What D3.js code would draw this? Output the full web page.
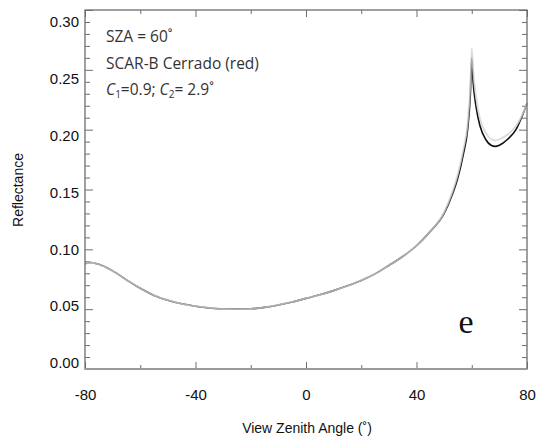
<!DOCTYPE html>
<html>
<head>
<meta charset="utf-8">
<script src="https://cdn.jsdelivr.net/npm/d3@7"></script>
<style>
  html, body { margin: 0; padding: 0; background: #fff; }
  svg { display: block; }
</style>
</head>
<body>
<svg id="chart" width="539" height="446"></svg>
<script>
// View zenith angle (degrees) and modelled reflectance
const angles = [-80, -78, -75, -70, -65, -60, -55, -50, -45, -40, -35, -30, -25, -20, -15, -10, -5,
  0, 5, 10, 15, 20, 25, 30, 35, 40, 45, 50, 53, 55, 57, 58.5, 59.5, 60, 60.5, 61.5, 63, 65, 67, 68.5, 70, 73, 76, 78, 80];
const reflBlack = [0.088, 0.089, 0.0875, 0.082, 0.0745, 0.0675, 0.0615, 0.0575, 0.0545, 0.0525, 0.051, 0.0503, 0.0500, 0.0503, 0.0515, 0.0535, 0.0560,
  0.0590, 0.0620, 0.0655, 0.0695, 0.0740, 0.0795, 0.0865, 0.0940, 0.1030, 0.1150, 0.1300, 0.1460, 0.1600, 0.1800, 0.2000, 0.2300, 0.2600, 0.2400, 0.2200, 0.2030, 0.1920, 0.1870, 0.1860, 0.1870, 0.1920, 0.2000, 0.2100, 0.2220];
const reflGrey = [0.088, 0.089, 0.0875, 0.082, 0.0745, 0.0675, 0.0615, 0.0575, 0.0545, 0.0525, 0.051, 0.0503, 0.0500, 0.0503, 0.0515, 0.0535, 0.0560,
  0.0590, 0.0620, 0.0655, 0.0695, 0.0740, 0.0795, 0.0865, 0.0940, 0.1030, 0.1150, 0.1310, 0.1480, 0.1630, 0.1840, 0.2050, 0.2380, 0.2680, 0.2500, 0.2280, 0.2090, 0.1980, 0.1920, 0.1910, 0.1920, 0.1960, 0.2030, 0.2110, 0.2220];

const xTicks = [-80, -40, 0, 40, 80];
const yTicks = [0.00, 0.05, 0.10, 0.15, 0.20, 0.25, 0.30];
const annotations = ["SZA = 60\u02DA", "SCAR-B Cerrado (red)"];

const svg = d3.select("#chart");
const mLeft = 85, mRight = 527, mTop = 10, mBottom = 369;

const x = d3.scaleLinear().domain([-80, 80]).range([mLeft, mRight]);
const y = d3.scaleLinear().domain([0, 0.30]).range([mBottom, mTop]);
// the value labels sit on a slightly tighter column than the tick marks
const yLabelPos = d3.scaleLinear().domain([0, 0.30]).range([363, 22]);

const frameColor = "#6e6e6e";
const tickFont = "'Liberation Sans', Arial, sans-serif";

// inward-pointing tick marks on all four sides
function tickMarks(axisGen, transform) {
  const g = svg.append("g").attr("transform", transform).call(axisGen);
  g.select(".domain").remove();
  g.selectAll("text").remove();
  g.selectAll("line").attr("stroke", frameColor).attr("stroke-width", 1);
  return g;
}
const yMinor = d3.range(0, 31).map(i => i / 100);
const yMinorOnly = yMinor.filter((v, i) => i % 5 !== 0);
const xMinorOnly = [-60, -20, 20, 60];

tickMarks(d3.axisLeft(y).tickValues(yMinorOnly).tickSize(-5), `translate(${mLeft},0)`);
tickMarks(d3.axisLeft(y).tickValues(yTicks).tickSize(-8), `translate(${mLeft},0)`);
tickMarks(d3.axisRight(y).tickValues(yMinorOnly).tickSize(-5), `translate(${mRight},0)`);
tickMarks(d3.axisRight(y).tickValues(yTicks).tickSize(-8), `translate(${mRight},0)`);
tickMarks(d3.axisTop(x).tickValues(xMinorOnly).tickSize(-4), `translate(0,${mTop})`);
tickMarks(d3.axisTop(x).tickValues(xTicks).tickSize(-7), `translate(0,${mTop})`);
tickMarks(d3.axisBottom(x).tickValues(xMinorOnly).tickSize(-4), `translate(0,${mBottom})`);
tickMarks(d3.axisBottom(x).tickValues(xTicks).tickSize(-7), `translate(0,${mBottom})`);

// tick labels
const yLab = svg.append("g").attr("transform", `translate(${mLeft},0)`)
  .call(d3.axisLeft(yLabelPos).tickValues(yTicks).tickSize(0).tickPadding(6).tickFormat(d3.format(".2f")));
yLab.select(".domain").remove();
yLab.selectAll("text").attr("font-family", tickFont).attr("font-size", 15).attr("fill", "#111");

const xLab = svg.append("g").attr("transform", `translate(0,${mBottom})`)
  .call(d3.axisBottom(x).tickValues(xTicks).tickSize(0).tickPadding(20).tickFormat(d => String(d)));
xLab.select(".domain").remove();
xLab.selectAll("text").attr("font-family", tickFont).attr("font-size", 15).attr("fill", "#111");

// curves
const line = d3.line().x((d, i) => x(angles[i])).y(d => y(d)).curve(d3.curveMonotoneX);
svg.append("path").datum(reflBlack).attr("d", line)
  .attr("fill", "none").attr("stroke", "#111").attr("stroke-width", 1.6);
svg.append("path").datum(reflGrey).attr("d", line)
  .attr("fill", "none").attr("stroke", "#d2d2d2").attr("stroke-width", 1.8).attr("opacity", 0.8);

// frame
svg.append("rect").attr("x", mLeft).attr("y", mTop).attr("width", mRight - mLeft).attr("height", mBottom - mTop)
  .attr("fill", "none").attr("stroke", frameColor).attr("stroke-width", 1.3);
svg.append("line").attr("x1", mLeft).attr("x2", mRight).attr("y1", mBottom).attr("y2", mBottom)
  .attr("stroke", "#9a9a9a").attr("stroke-width", 2);

// axis titles
svg.append("text").attr("x", 307).attr("y", 433).attr("text-anchor", "middle")
  .attr("font-family", tickFont).attr("font-size", 14).attr("fill", "#111").text("View Zenith Angle (\u02DA)");
svg.append("text").attr("transform", `translate(23,${190}) rotate(-90)`).attr("text-anchor", "middle")
  .attr("font-family", tickFont).attr("font-size", 14).attr("fill", "#111").text("Reflectance");

// annotation block
const annFont = "'Open Sans', 'Noto Sans', sans-serif";
const ann = svg.append("g").attr("font-family", annFont).attr("font-size", 15.5).attr("fill", "#333");
ann.append("text").attr("x", 106).attr("y", 42).text(annotations[0]);
ann.append("text").attr("x", 106).attr("y", 69).text(annotations[1]);
const t3 = ann.append("text").attr("x", 106).attr("y", 95);
t3.append("tspan").attr("font-style", "italic").text("C");
t3.append("tspan").attr("font-size", 10).attr("dy", 3).text("1");
t3.append("tspan").attr("dy", -3).text("=0.9; ");
t3.append("tspan").attr("font-style", "italic").text("C");
t3.append("tspan").attr("font-size", 10).attr("dy", 3).text("2");
t3.append("tspan").attr("dy", -3).text("= 2.9\u02DA");

// panel letter
svg.append("text").attr("x", 466).attr("y", 333).attr("text-anchor", "middle")
  .attr("font-family", "'Liberation Serif', 'Times New Roman', serif").attr("font-size", 34).attr("fill", "#111").text("e");
</script>
</body>
</html>
